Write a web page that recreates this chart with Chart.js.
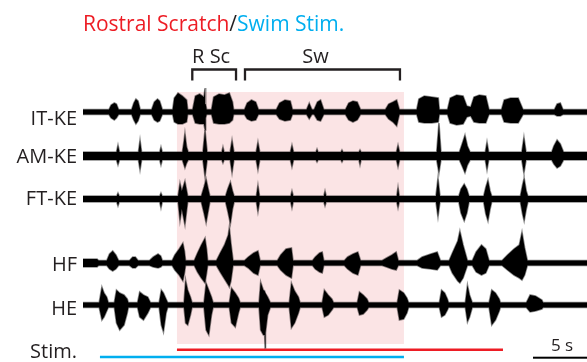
<!DOCTYPE html>
<html>
<head>
<meta charset="utf-8">
<script src="https://cdn.jsdelivr.net/npm/chart.js@4.4.1/dist/chart.umd.min.js"></script>
<style>
  html, body { margin: 0; padding: 0; background: #fff; }
  #wrap { width: 587px; height: 362px; }
</style>
</head>
<body>
<div id="wrap"><canvas id="rec" width="587" height="362"></canvas></div>
<script>
// ---- Timing (seconds) ----
const recordLength = 46.67;
const scratchStim = [8.70, 38.89];   // rostral scratch stimulation
const swimStim = [1.57, 29.72];      // swim stimulation
const highlight = [8.70, 29.72];     // shaded epoch
const episodes = [['R Sc', 10.12, 14.17], ['Sw', 15.0, 29.35]];
const scaleBarSeconds = 5;
const channelNames = ['IT-KE', 'AM-KE', 'FT-KE', 'HF', 'HE'];

// ---- Rectified envelopes: [time s, upward extent, downward extent] (a.u.) ----
const itke = [
  [0,2.5,2.5],[2.4,2.5,2.5],[2.6,7,6],[2.9,9,8],[3.1,8,6],[3.3,2.5,2.5],
  [4.5,2.5,2.5],[4.7,9,8],[4.9,13,12],[5.1,11,9],[5.3,2.5,2.5],
  [6.35,2.5,2.5],[6.6,10,8],[6.9,13,10],[7.1,11,9],[7.35,2.5,2.5],
  [8.3,2.5,2.5],[8.45,14,10],[8.8,19,12],[9.2,16,12],[9.6,12,10],[9.7,2.5,2.5],
  [10.15,2.5,2.5],[10.4,16,11],[10.8,18,12],[11.2,15,12],[11.3,24,18],[11.36,8,6],[11.45,2.5,2.5],
  [11.9,2.5,2.5],[12.1,15,11],[12.6,18,12],[13.1,17,12],[13.55,19,11],[13.85,10,8],[13.95,2.5,2.5],
  [14.95,2.5,2.5],[15.2,9,7],[15.6,12,9],[16.0,10,8],[16.25,2.5,2.5],
  [17.9,2.5,2.5],[18.2,9,7],[18.7,12,9],[19.2,11,8],[19.4,2.5,2.5],
  [20.7,2.5,2.5],[20.95,9,7],[21.2,2.5,2.5],
  [21.4,2.5,2.5],[21.7,10,8],[22.0,12,9],[22.3,2.5,2.5],
  [24.3,2.5,2.5],[24.6,9,8],[25.0,11,10],[25.4,10,8],[25.7,2.5,2.5],
  [28.0,2.5,2.5],[28.3,8,7],[28.7,10,10],[29.05,12,14],[29.3,2.5,2.5],
  [30.9,2.5,2.5],[31.1,13,10],[31.6,16,11],[32.3,15,11],[32.9,14,10],[33.0,2.5,2.5],
  [33.75,2.5,2.5],[34.0,14,11],[34.6,17,13],[35.2,16,12],[35.55,6,5],
  [35.9,5,4],[36.2,15,10],[36.7,17,11],[37.3,16,11],[37.6,2.5,2.5],
  [38.75,2.5,2.5],[39.0,12,10],[39.6,14,11],[40.3,14,11],[40.75,2.5,2.5],
  [43.65,2.5,2.5],[43.9,8,4],[44.2,9,4],[44.45,2.5,2.5],
  [46.67,2.5,2.5]
];
const amke = [
  [0,4,4],
  [3.1,4,4],[3.24,11,9],[3.38,4,4],
  [5.13,4,4],[5.28,16,14],[5.43,4,4],
  [7.1,4,4],[7.22,9,9],[7.34,4,4],
  [9.2,4,4],[9.35,15,9],[9.44,23,12],[9.6,9,7],[9.75,4,4],
  [11.1,4,4],[11.3,26,21],[11.5,4,4],
  [12.85,4,4],[12.96,9,7],[13.07,4,4],
  [13.62,4,4],[13.8,16,17],[13.98,4,4],
  [16.03,4,4],[16.2,14,14],[16.37,4,4],
  [19.2,4,4],[19.35,11,11],[19.5,4,4],
  [21.57,4,4],[21.67,7,6],[21.77,4,4],
  [23.88,4,4],[23.98,6,6],[24.08,4,4],
  [25.55,4,4],[25.65,6,9],[25.75,4,4],
  [29.02,4,4],[29.17,11,11],[29.32,4,4],
  [32.75,4,4],[32.96,33,17],[33.15,4,4],
  [34.85,4,4],[35.1,12,10],[35.37,21,17],[35.6,10,9],[35.85,4,4],
  [37.25,4,4],[37.41,14,14],[37.57,4,4],
  [40.63,4,4],[40.83,19,17],[41.03,4,4],
  [43.4,4,4],[43.6,10,8],[43.9,16,12],[44.2,12,10],[44.5,4,4],
  [46.67,4,4]
];
const ftke = [
  [0,3,3],
  [3.12,3,3],[3.24,6,7],[3.36,3,3],
  [7.1,3,3],[7.22,6,9],[7.34,3,3],
  [8.8,3,3],[8.98,16,22],[9.15,8,10],[9.44,18,26],[9.7,3,3],
  [10.95,3,3],[11.2,12,14],[11.4,20,24],[11.6,10,12],[11.75,3,3],
  [13.2,3,3],[13.4,10,12],[13.65,17,25],[13.85,8,10],[14.0,3,3],
  [16.05,3,3],[16.2,14,13],[16.35,3,3],
  [19.23,3,3],[19.35,8,9],[19.47,3,3],
  [22.3,3,3],[22.41,8,7],[22.52,3,3],
  [29.05,3,3],[29.17,12,9],[29.29,3,3],
  [32.68,3,3],[32.87,21,18],[33.06,3,3],
  [34.8,3,3],[35.0,10,14],[35.3,15,22],[35.55,10,14],[35.75,3,3],
  [37.1,3,3],[37.3,12,15],[37.5,19,22],[37.7,8,10],[37.85,3,3],
  [40.5,3,3],[40.7,14,15],[40.85,21,22],[41.05,8,10],[41.2,3,3],
  [46.67,3,3]
];
const hf = [
  [0,4,4],[1.3,4,4],[1.45,2.5,2.5],
  [2.2,2.5,2.5],[2.45,9,6],[2.75,12,8],[3.05,8,6],[3.3,2.5,2.5],
  [4.3,2.5,2.5],[4.6,6,5],[4.85,6,5],[5.1,2.5,2.5],
  [6.15,2.5,2.5],[6.5,6,4],[6.95,9,5],[7.2,7,4],[7.35,2.5,2.5],
  [8.25,2.5,2.5],[8.5,8,7],[8.9,14,12],[9.25,20,18],[9.4,12,10],[9.5,2.5,2.5],
  [10.3,2.5,2.5],[10.6,10,9],[10.95,18,15],[11.3,25,20],[11.45,14,10],[11.55,2.5,2.5],
  [12.35,2.5,2.5],[12.7,10,9],[13.1,18,16],[13.45,28,22],[13.55,36,24],[13.7,20,18],[13.9,2.5,2.5],
  [14.95,2.5,2.5],[15.3,6,5],[15.8,10,10],[16.2,12,12],[16.4,2.5,2.5],
  [18.0,2.5,2.5],[18.3,8,7],[18.8,14,12],[19.3,15,15],[19.45,2.5,2.5],
  [21.25,2.5,2.5],[21.5,6,6],[21.9,10,9],[22.15,11,10],[22.3,2.5,2.5],
  [24.2,2.5,2.5],[24.5,6,6],[25.0,9,10],[25.45,11,12],[25.7,2.5,2.5],
  [27.7,2.5,2.5],[28.1,5,4],[28.6,8,6],[29.0,11,7],[29.2,2.5,2.5],
  [30.95,2.5,2.5],[31.4,6,5],[32.2,9,6],[32.8,11,7],[33.1,2.5,2.5],
  [33.9,2.5,2.5],[34.2,10,10],[34.7,22,18],[34.9,32,20],[35.2,18,15],[35.6,2.5,2.5],
  [36.05,2.5,2.5],[36.4,11,9],[36.9,18,12],[37.3,14,10],[37.6,2.5,2.5],
  [38.8,2.5,2.5],[39.3,8,7],[39.9,14,12],[40.4,18,15],[40.65,31,17],[40.9,15,12],[41.15,2.5,2.5],
  [46.67,2.5,2.5]
];
const he = [
  [0,2.5,2.5],
  [1.5,2.5,2.5],[1.65,12,10],[1.75,18,15],[1.95,12,12],[2.2,8,6],[2.35,2.5,2.5],
  [2.9,2.5,2.5],[3.1,15,18],[3.4,12,25],[3.8,10,20],[4.1,6,8],[4.2,2.5,2.5],
  [5.05,2.5,2.5],[5.25,13,12],[5.6,10,15],[6.0,8,8],[6.25,2.5,2.5],
  [7.05,2.5,2.5],[7.25,15,20],[7.45,12,27],[7.7,6,8],[7.85,2.5,2.5],
  [9.35,2.5,2.5],[9.5,25,18],[9.7,15,20],[9.95,8,10],[10.1,2.5,2.5],
  [11.2,2.5,2.5],[11.4,22,25],[11.65,15,30],[11.9,8,10],[12.05,2.5,2.5],
  [13.55,2.5,2.5],[13.75,17,18],[14.1,12,22],[14.4,7,8],[14.55,2.5,2.5],
  [16.3,2.5,2.5],[16.45,23,25],[16.7,15,30],[16.82,14,30],[16.86,12,43],[16.9,12,28],[17.1,8,10],[17.35,2.5,2.5],
  [19.1,2.5,2.5],[19.3,22,23],[19.6,14,18],[19.95,8,8],[20.1,2.5,2.5],
  [22.15,2.5,2.5],[22.35,15,12],[22.7,10,10],[23.05,6,5],[23.2,2.5,2.5],
  [25.4,2.5,2.5],[25.6,13,10],[25.95,10,9],[26.3,6,5],[26.45,2.5,2.5],
  [29.1,2.5,2.5],[29.3,15,15],[29.7,12,14],[30.0,7,8],[30.15,2.5,2.5],
  [33.0,2.5,2.5],[33.2,15,12],[33.5,12,10],[33.75,6,5],[33.85,2.5,2.5],
  [35.4,2.5,2.5],[35.6,20,17],[35.8,10,12],[36.05,2.5,2.5],
  [37.6,2.5,2.5],[37.85,15,20],[38.2,12,15],[38.55,6,6],[38.65,2.5,2.5],
  [41.05,2.5,2.5],[41.4,10,7],[41.9,9,6],[42.5,5,4],[42.6,2.5,2.5],
  [46.67,2.5,2.5]
];

// ---- Layout ----
const traces = [itke, amke, ftke, hf, he];
const laneY = [-112, -156, -199, -263, -305];          // trace baselines on the y scale
const labelBaseline = [125.4, 162.9, 204.6, 270.9, 314.6];
const stimRedY = -349.8, stimBlueY = -357;
const RED = '#ed1c24', CYAN = '#00aeef', INK = '#231f20', PINK = '#fbe4e5';
const FONT = '"Open Sans", "Noto Sans", sans-serif';
const EDGE = 'rgba(0,0,0,0.45)';

const datasets = [];
traces.forEach((env, i) => {
  datasets.push({
    data: env.map(p => ({ x: p[0], y: laneY[i] + p[1] })),
    borderColor: EDGE, borderWidth: 1.6, pointRadius: 0, fill: false
  });
  datasets.push({
    data: env.map(p => ({ x: p[0], y: laneY[i] - p[2] })),
    borderColor: EDGE, borderWidth: 1.6, pointRadius: 0,
    fill: '-1', backgroundColor: '#000'
  });
});
datasets.push({
  data: [{ x: scratchStim[0], y: stimRedY }, { x: scratchStim[1], y: stimRedY }],
  borderColor: RED, borderWidth: 2.6, pointRadius: 0, fill: false, borderCapStyle: 'butt'
});
datasets.push({
  data: [{ x: swimStim[0], y: stimBlueY }, { x: swimStim[1], y: stimBlueY }],
  borderColor: CYAN, borderWidth: 2.6, pointRadius: 0, fill: false, borderCapStyle: 'butt'
});

const decorations = {
  id: 'decorations',
  beforeDatasetsDraw(chart) {
    const { ctx, scales: { x, y } } = chart;
    ctx.save();
    ctx.fillStyle = PINK;
    const x1 = x.getPixelForValue(highlight[0]), x2 = x.getPixelForValue(highlight[1]);
    const y1 = y.getPixelForValue(-92), y2 = y.getPixelForValue(-344);
    ctx.fillRect(x1, y1, x2 - x1, y2 - y1);
    ctx.restore();
  },
  afterDatasetsDraw(chart) {
    const { ctx, chartArea, scales: { x } } = chart;
    ctx.save();
    ctx.textBaseline = 'alphabetic';

    // title
    ctx.font = '21px ' + FONT;
    ctx.textAlign = 'left';
    let tx = chartArea.left;
    [['Rostral Scratch', RED], ['/', INK], ['Swim Stim.', CYAN]].forEach(([s, c]) => {
      ctx.fillStyle = c;
      ctx.fillText(s, tx, 30.7);
      tx += ctx.measureText(s).width;
    });

    // behaviour episodes
    const labelShift = [-3, -7];
    ctx.strokeStyle = INK;
    ctx.fillStyle = INK;
    ctx.lineWidth = 2.3;
    ctx.lineJoin = 'miter';
    ctx.font = '20px ' + FONT;
    ctx.textAlign = 'center';
    episodes.forEach(([name, s, e], i) => {
      const a = x.getPixelForValue(s), b = x.getPixelForValue(e);
      ctx.beginPath();
      ctx.moveTo(a, 80.5); ctx.lineTo(a, 69.5); ctx.lineTo(b, 69.5); ctx.lineTo(b, 80.5);
      ctx.stroke();
      ctx.fillText(name, (a + b) / 2 + labelShift[i], 62.7);
    });

    // channel labels
    ctx.textAlign = 'right';
    ctx.font = '20px ' + FONT;
    channelNames.forEach((n, i) => ctx.fillText(n, chartArea.left - 6, labelBaseline[i]));
    ctx.fillText('Stim.', chartArea.left - 6, 358);

    // time scale bar
    const sb1 = x.getPixelForValue(recordLength - scaleBarSeconds), sb2 = x.getPixelForValue(recordLength);
    ctx.fillStyle = '#000';
    ctx.fillRect(sb1, 356.7, sb2 - sb1, 2);
    ctx.fillStyle = INK;
    ctx.font = '17px ' + FONT;
    ctx.textAlign = 'center';
    ctx.fillText(scaleBarSeconds + ' s', 562, 350.7);
    ctx.restore();
  }
};

function draw() {
  new Chart(document.getElementById('rec'), {
    type: 'line',
    data: { datasets },
    options: {
      responsive: false,
      animation: false,
      devicePixelRatio: 1,
      layout: { padding: { left: 83, right: 0, top: 0, bottom: 0 } },
      elements: { line: { tension: 0 } },
      plugins: { legend: { display: false }, tooltip: { enabled: false }, title: { display: false } },
      scales: {
        x: { type: 'linear', min: 0, max: recordLength, display: false },
        y: { type: 'linear', min: -362, max: 0, display: false }
      }
    },
    plugins: [decorations]
  });
}
if (document.fonts && document.fonts.load) {
  Promise.all([document.fonts.load('21px "Open Sans"')]).then(draw, draw);
} else { draw(); }
</script>
</body>
</html>
